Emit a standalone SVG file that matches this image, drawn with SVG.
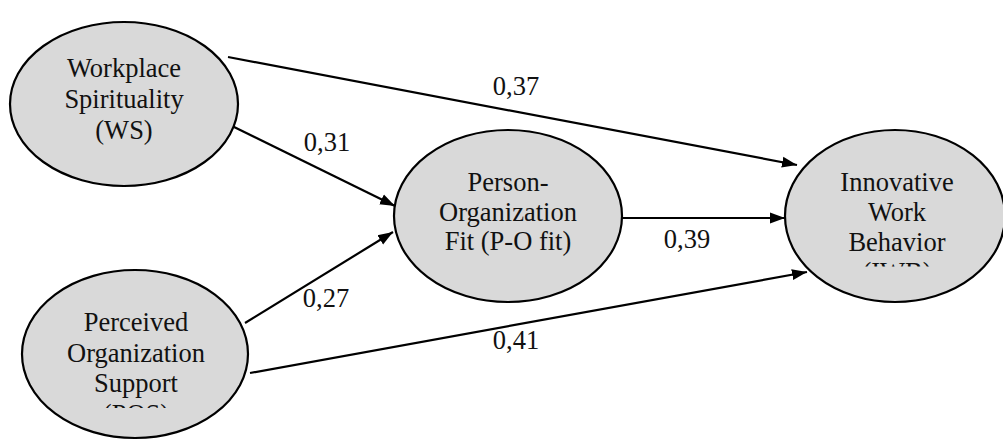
<svg xmlns="http://www.w3.org/2000/svg" width="1003" height="440" viewBox="0 0 1003 440">
<style>
.node ellipse{fill:#d9d9d9;stroke:#000;stroke-width:2.2}
.t{font-size:26.5px;fill:#111;text-anchor:middle}
.conn line{stroke:#000;stroke-width:2.2;marker-end:url(#arrow)}
</style>
<defs>
<marker id="arrow" markerUnits="userSpaceOnUse" markerWidth="16" markerHeight="12" refX="15" refY="6" orient="auto">
<path d="M0,0.5 L15,6 L0,11.5 z" fill="#000"/>
</marker>
<clipPath id="clipPOS"><rect x="0" y="0" width="1003" height="408"/></clipPath>
<clipPath id="clipIWB"><rect x="0" y="0" width="1003" height="266.5"/></clipPath>
</defs>
<g id="connectors" class="conn">
<line x1="228" y1="57" x2="797" y2="165"/>
<line x1="230" y1="125" x2="395" y2="206"/>
<line x1="245" y1="323" x2="393" y2="232"/>
<line x1="250" y1="373" x2="807" y2="272"/>
<line x1="622" y1="218" x2="785" y2="218"/>
</g>
<g id="node-ws" class="node" font-family="Liberation Serif, serif">
<ellipse cx="124" cy="104" rx="114" ry="82"/>
<text class="t" x="124" y="77">Workplace</text>
<text class="t" x="124" y="108">Spirituality</text>
<text class="t" x="124" y="139">(WS)</text>
</g>
<g id="node-pos" class="node" font-family="Liberation Serif, serif">
<ellipse cx="135" cy="354" rx="113" ry="84"/>
<g clip-path="url(#clipPOS)">
<text class="t" x="136" y="331">Perceived</text>
<text class="t" x="136" y="362">Organization</text>
<text class="t" x="136" y="392">Support</text>
<text class="t" x="136" y="423">(POS)</text>
</g>
</g>
<g id="node-po" class="node" font-family="Liberation Serif, serif">
<ellipse cx="508" cy="216" rx="114" ry="86"/>
<text class="t" x="508" y="191">Person-</text>
<text class="t" x="508" y="220.5">Organization</text>
<text class="t" x="508" y="250">Fit (P-O fit)</text>
</g>
<g id="node-iwb" class="node" font-family="Liberation Serif, serif">
<ellipse cx="895" cy="216" rx="110" ry="86"/>
<g clip-path="url(#clipIWB)">
<text class="t" x="897" y="191">Innovative</text>
<text class="t" x="897" y="221">Work</text>
<text class="t" x="897" y="251">Behavior</text>
<text class="t" x="897" y="281">(IWB)</text>
</g>
</g>
<g id="labels" font-family="Liberation Serif, serif">
<text class="t" x="516" y="95">0,37</text>
<text class="t" x="327" y="151">0,31</text>
<text class="t" x="687" y="248">0,39</text>
<text class="t" x="326" y="307">0,27</text>
<text class="t" x="516" y="349">0,41</text>
</g>
</svg>
